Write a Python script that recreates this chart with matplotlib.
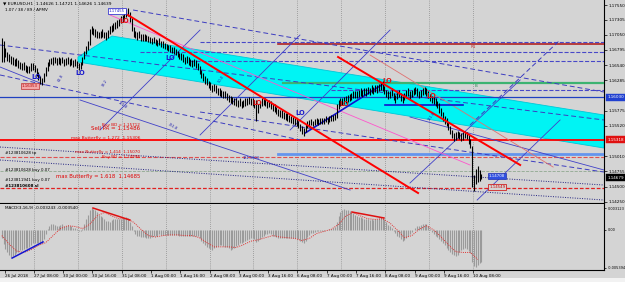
import matplotlib
matplotlib.use("Agg")
import matplotlib.pyplot as plt
from matplotlib.patches import Polygon, Rectangle

BG = "#d4d4d4"

# EURUSD H1 bars, one row = 16 bars
bar_hi = [
    1.1700, 1.1694, 1.1683, 1.1676, 1.1673, 1.1669, 1.1667, 1.1665, 1.1666, 1.1662, 1.1660, 1.1658, 1.1659, 1.1655, 1.1653, 1.1652,
    1.1657, 1.1658, 1.1655, 1.1649, 1.1642, 1.1636, 1.1633, 1.1640, 1.1651, 1.1660, 1.1665, 1.1666, 1.1667, 1.1668, 1.1666, 1.1667,
    1.1666, 1.1667, 1.1664, 1.1666, 1.1667, 1.1664, 1.1666, 1.1662, 1.1664, 1.1661, 1.1657, 1.1660, 1.1668, 1.1677, 1.1686, 1.1694,
    1.1715, 1.1719, 1.1716, 1.1714, 1.1712, 1.1710, 1.1712, 1.1714, 1.1710, 1.1709, 1.1713, 1.1720, 1.1722, 1.1724, 1.1727, 1.1729,
    1.1732, 1.1736, 1.1739, 1.1743, 1.1748, 1.1750, 1.1744, 1.1734, 1.1718, 1.1711, 1.1709, 1.1711, 1.1707, 1.1706, 1.1707, 1.1705,
    1.1703, 1.1702, 1.1699, 1.1702, 1.1698, 1.1697, 1.1699, 1.1694, 1.1694, 1.1691, 1.1690, 1.1688, 1.1687, 1.1684, 1.1684, 1.1681,
    1.1678, 1.1675, 1.1674, 1.1672, 1.1668, 1.1669, 1.1667, 1.1665, 1.1663, 1.1665, 1.1662, 1.1658, 1.1652, 1.1646, 1.1640, 1.1635,
    1.1632, 1.1628, 1.1625, 1.1621, 1.1623, 1.1620, 1.1616, 1.1615, 1.1613, 1.1611, 1.1610, 1.1608, 1.1604, 1.1603, 1.1601, 1.1599,
    1.1598, 1.1596, 1.1598, 1.1594, 1.1596, 1.1598, 1.1599, 1.1601, 1.1599, 1.1598, 1.1596, 1.1595, 1.1588, 1.1594, 1.1598, 1.1599,
    1.1598, 1.1594, 1.1596, 1.1593, 1.1589, 1.1588, 1.1584, 1.1581, 1.1579, 1.1578, 1.1576, 1.1574, 1.1573, 1.1571, 1.1569, 1.1567,
    1.1566, 1.1564, 1.1561, 1.1556, 1.1551, 1.1548, 1.1555, 1.1561, 1.1562, 1.1563, 1.1561, 1.1563, 1.1565, 1.1563, 1.1565, 1.1566,
    1.1566, 1.1568, 1.1566, 1.1568, 1.1570, 1.1570, 1.1572, 1.1588, 1.1595, 1.1598, 1.1599, 1.1601, 1.1603, 1.1604, 1.1606, 1.1608,
    1.1610, 1.1611, 1.1610, 1.1613, 1.1615, 1.1613, 1.1616, 1.1615, 1.1618, 1.1616, 1.1620, 1.1618, 1.1621, 1.1620, 1.1623, 1.1626,
    1.1627, 1.1619, 1.1613, 1.1610, 1.1611, 1.1615, 1.1608, 1.1604, 1.1610, 1.1613, 1.1607, 1.1603, 1.1608, 1.1612, 1.1616, 1.1610,
    1.1613, 1.1616, 1.1618, 1.1615, 1.1611, 1.1613, 1.1616, 1.1618, 1.1615, 1.1610, 1.1606, 1.1603, 1.1601, 1.1598, 1.1594, 1.1590,
    1.1582, 1.1575, 1.1568, 1.1565, 1.1559, 1.1552, 1.1545, 1.1540, 1.1541, 1.1544, 1.1542, 1.1540, 1.1541, 1.1544, 1.1542, 1.1537,
    1.1530, 1.1518, 1.1470, 1.1480, 1.1485, 1.1478, 1.1472,
]
bar_lo = [
    1.1660, 1.1660, 1.1667, 1.1661, 1.1659, 1.1656, 1.1655, 1.1653, 1.1653, 1.1650, 1.1648, 1.1646, 1.1646, 1.1643, 1.1641, 1.1640,
    1.1645, 1.1646, 1.1643, 1.1636, 1.1629, 1.1623, 1.1620, 1.1626, 1.1635, 1.1645, 1.1653, 1.1656, 1.1655, 1.1657, 1.1655, 1.1656,
    1.1655, 1.1657, 1.1653, 1.1655, 1.1656, 1.1653, 1.1655, 1.1651, 1.1653, 1.1650, 1.1646, 1.1648, 1.1655, 1.1664, 1.1672, 1.1679,
    1.1688, 1.1706, 1.1704, 1.1702, 1.1700, 1.1699, 1.1700, 1.1702, 1.1699, 1.1697, 1.1700, 1.1706, 1.1710, 1.1711, 1.1715, 1.1717,
    1.1720, 1.1724, 1.1727, 1.1730, 1.1735, 1.1736, 1.1726, 1.1712, 1.1702, 1.1699, 1.1697, 1.1699, 1.1695, 1.1694, 1.1695, 1.1694,
    1.1693, 1.1691, 1.1689, 1.1691, 1.1688, 1.1686, 1.1687, 1.1684, 1.1682, 1.1681, 1.1679, 1.1677, 1.1676, 1.1674, 1.1672, 1.1671,
    1.1668, 1.1664, 1.1662, 1.1660, 1.1656, 1.1658, 1.1655, 1.1653, 1.1651, 1.1653, 1.1650, 1.1646, 1.1639, 1.1633, 1.1628, 1.1623,
    1.1620, 1.1616, 1.1613, 1.1609, 1.1611, 1.1608, 1.1604, 1.1603, 1.1601, 1.1599, 1.1598, 1.1596, 1.1592, 1.1591, 1.1589, 1.1587,
    1.1586, 1.1584, 1.1586, 1.1582, 1.1584, 1.1586, 1.1587, 1.1589, 1.1587, 1.1586, 1.1582, 1.1561, 1.1574, 1.1582, 1.1586, 1.1587,
    1.1586, 1.1582, 1.1584, 1.1581, 1.1577, 1.1576, 1.1572, 1.1569, 1.1567, 1.1566, 1.1564, 1.1562, 1.1561, 1.1559, 1.1557, 1.1555,
    1.1554, 1.1552, 1.1549, 1.1544, 1.1539, 1.1535, 1.1541, 1.1549, 1.1550, 1.1553, 1.1551, 1.1553, 1.1555, 1.1553, 1.1555, 1.1556,
    1.1556, 1.1558, 1.1556, 1.1558, 1.1560, 1.1560, 1.1562, 1.1565, 1.1580, 1.1586, 1.1587, 1.1589, 1.1591, 1.1592, 1.1594, 1.1596,
    1.1598, 1.1599, 1.1598, 1.1601, 1.1603, 1.1601, 1.1604, 1.1603, 1.1606, 1.1604, 1.1608, 1.1606, 1.1609, 1.1608, 1.1611, 1.1612,
    1.1611, 1.1605, 1.1600, 1.1597, 1.1598, 1.1602, 1.1595, 1.1591, 1.1597, 1.1600, 1.1593, 1.1590, 1.1595, 1.1598, 1.1602, 1.1597,
    1.1601, 1.1604, 1.1606, 1.1603, 1.1599, 1.1601, 1.1604, 1.1606, 1.1603, 1.1598, 1.1594, 1.1591, 1.1589, 1.1586, 1.1582, 1.1574,
    1.1568, 1.1560, 1.1555, 1.1552, 1.1545, 1.1539, 1.1532, 1.1527, 1.1529, 1.1532, 1.1530, 1.1527, 1.1529, 1.1532, 1.1530, 1.1521,
    1.1515, 1.1450, 1.1443, 1.1455, 1.1458, 1.1460, 1.1463,
]

# MACD main (histogram) per bar
macd_main = [
    -0.0012, -0.0020, -0.0027, -0.0032, -0.0035, -0.0038, -0.0037, -0.0035, -0.0033, -0.0031, -0.0029, -0.0028, -0.0027, -0.0026, -0.0025, -0.0024,
    -0.0021, -0.0019, -0.0018, -0.0018, -0.0019, -0.0019, -0.0018, -0.0013, -0.0006, 0.0002, 0.0006, 0.0008, 0.0008, 0.0007, 0.0006, 0.0005,
    0.0007, 0.0008, 0.0006, 0.0006, 0.0007, 0.0005, 0.0005, 0.0003, 0.0003, 0.0001, -0.0002, -0.0002, 0.0002, 0.0009, 0.0015, 0.0021,
    0.0028, 0.0031, 0.0030, 0.0028, 0.0025, 0.0022, 0.0020, 0.0018, 0.0015, 0.0013, 0.0013, 0.0012, 0.0014, 0.0015, 0.0016, 0.0016,
    0.0016, 0.0016, 0.0017, 0.0017, 0.0018, 0.0017, 0.0012, 0.0005, -0.0002, -0.0006, -0.0008, -0.0009, -0.0010, -0.0010, -0.0010, -0.0011,
    -0.0011, -0.0011, -0.0010, -0.0008, -0.0008, -0.0008, -0.0006, -0.0007, -0.0007, -0.0007, -0.0007, -0.0007, -0.0007, -0.0007, -0.0007, -0.0007,
    -0.0007, -0.0008, -0.0008, -0.0008, -0.0009, -0.0008, -0.0008, -0.0008, -0.0008, -0.0008, -0.0008, -0.0009, -0.0012, -0.0016, -0.0019, -0.0022,
    -0.0024, -0.0026, -0.0027, -0.0028, -0.0026, -0.0024, -0.0023, -0.0022, -0.0022, -0.0023, -0.0024, -0.0024, -0.0026, -0.0028, -0.0027, -0.0025,
    -0.0023, -0.0021, -0.0019, -0.0018, -0.0017, -0.0015, -0.0014, -0.0013, -0.0012, -0.0012, -0.0013, -0.0017, -0.0016, -0.0013, -0.0010, -0.0008,
    -0.0006, -0.0006, -0.0005, -0.0006, -0.0008, -0.0009, -0.0010, -0.0011, -0.0011, -0.0011, -0.0011, -0.0011, -0.0011, -0.0011, -0.0011, -0.0012,
    -0.0012, -0.0012, -0.0013, -0.0015, -0.0017, -0.0018, -0.0015, -0.0010, -0.0007, -0.0005, -0.0004, -0.0003, -0.0002, -0.0002, -0.0001, -0.0001,
    -0.0001, 0.0000, 0.0000, 0.0001, 0.0002, 0.0003, 0.0004, 0.0011, 0.0020, 0.0026, 0.0029, 0.0030, 0.0029, 0.0028, 0.0027, 0.0025,
    0.0024, 0.0022, 0.0020, 0.0019, 0.0018, 0.0017, 0.0016, 0.0015, 0.0015, 0.0014, 0.0015, 0.0014, 0.0015, 0.0016, 0.0017, 0.0018,
    0.0018, 0.0015, 0.0011, 0.0007, 0.0005, 0.0003, -0.0001, -0.0004, -0.0008, -0.0010, -0.0013, -0.0016, -0.0014, -0.0011, -0.0008, -0.0006,
    -0.0003, 0.0000, 0.0003, 0.0005, 0.0006, 0.0007, 0.0008, 0.0009, 0.0008, 0.0005, 0.0001, -0.0003, -0.0006, -0.0008, -0.0010, -0.0013,
    -0.0016, -0.0019, -0.0022, -0.0025, -0.0028, -0.0031, -0.0034, -0.0036, -0.0037, -0.0035, -0.0032, -0.0029, -0.0027, -0.0026, -0.0027, -0.0030,
    -0.0033, -0.0045, -0.0052, -0.0053, -0.0050, -0.0047, -0.0045,
]

# MACD signal, read every 4th bar
signal_bars = list(range(0, 261, 4))
macd_signal = [
    -0.0008, -0.0020, -0.0030, -0.0032, -0.0028, -0.0022, -0.0018, -0.0008, 0.0002, 0.0006, 0.0005, 0.0002, 0.0008, 0.0020, 0.0025, 0.0020,
    0.0016, 0.0016, 0.0011, 0.0001, -0.0008, -0.0010, -0.0008, -0.0007, -0.0007, -0.0008, -0.0008, -0.0011, -0.0018, -0.0024, -0.0024, -0.0024,
    -0.0025, -0.0021, -0.0016, -0.0014, -0.0011, -0.0008, -0.0010, -0.0011, -0.0012, -0.0015, -0.0012, -0.0005, -0.0002, 0.0001, 0.0008, 0.0020,
    0.0025, 0.0020, 0.0016, 0.0015, 0.0016, 0.0010, 0.0000, -0.0011, -0.0008, 0.0001, 0.0006, 0.0000, -0.0010, -0.0021, -0.0031, -0.0032,
    -0.0032, -0.0042,
]

time_labels = ["26 Jul 2018", "27 Jul 08:00", "30 Jul 00:00", "30 Jul 16:00", "31 Jul 08:00",
               "1 Aug 00:00", "1 Aug 16:00", "2 Aug 08:00", "3 Aug 00:00", "3 Aug 16:00",
               "6 Aug 08:00", "7 Aug 00:00", "7 Aug 16:00", "8 Aug 08:00", "9 Aug 00:00",
               "9 Aug 16:00", "10 Aug 08:00"]
price_ticks = [1.17550, 1.17305, 1.17050, 1.16795, 1.16540, 1.16285, 1.15775,
               1.15520, 1.15010, 1.14755, 1.14500, 1.14250]

# objects drawn on the chart: (bar0, price0, bar1, price1)
red_trends = [(68.9, 1.17382, 227.4, 1.14393), (183.7, 1.16677, 283.2, 1.14863)]
thin_red = [(201.2, 1.16710, 301.2, 1.14829)]
pink_lines = [(59.1, 1.17382, 255.8, 1.14863)]
fan_dashed = [(71.7, 1.17466, 329, 1.16089), (-1, 1.16878, 329, 1.15619),
              (108.3, 1.15753, 329, 1.14745), (-1, 1.16375, 162.9, 1.15283),
              (255.8, 1.15535, 305, 1.16962)]
fan_solid = [(42.7, 1.15955, 190.3, 1.14443), (223.0, 1.15669, 329, 1.14779),
             (108.3, 1.15367, 162.9, 1.17046), (157.5, 1.15451, 212.1, 1.17130),
             (223.0, 1.14561, 283.2, 1.16291), (259.7, 1.14275, 305, 1.15619),
             (53.6, 1.15451, 108.3, 1.17130), (-1, 1.16509, 23.6, 1.16207)]
fan_dotted = [(-1, 1.15165, 329, 1.14527), (-1, 1.14947, 329, 1.14275)]
blue_trend = [(165.7, 1.15400, 208.3, 1.16223), (209.4, 1.15871, 252.0, 1.15871)]
# horizontal levels: price, start bar, colour, width, style
levels = [
    (1.15290, -1, "red", 1.3, "-"),
    (1.16000, -1, "#2040c0", 0.9, "-"),
    (1.15040, 151.0, "#6495ed", 2.0, "-"),
    (1.16240, 153.6, "#3cb371", 1.6, "-"),
    (1.16895, 151.0, "#b22222", 1.2, "-"),
    (1.16929, 108.3, "#4848c8", 0.8, "--"),
    (1.16761, 75.5, "#4848c8", 0.8, "--"),
    (1.16610, 103.0, "#4848c8", 0.8, "--"),
    (1.16123, 180.0, "#4848c8", 0.8, "--"),
    (1.14997, -1, "#e05050", 0.8, "--"),
    (1.14762, -1, "#90a890", 0.6, "--"),
    (1.14477, -1, "#e02020", 0.9, (0, (3, 1.5))),
]
cyan_bars = [41.6, 60.2, 329, 329, 41.6]
cyan_prices = [1.16677, 1.17029, 1.15703, 1.15148, 1.16593]

lo_blue = [(18.7, 1.16341), (42.7, 1.16408), (91.9, 1.16660), (162.9, 1.15736)]
lo_red = [(66.8, 1.17281), (139.4, 1.15904), (187.0, 1.15888), (210.5, 1.16274), (234.5, 1.16022)]

order_texts = [("#123810628 tp", 1.15065, False), ("#123810628 buy 0.07", 1.14779, False),
               ("#123811941 buy 0.07", 1.14611, False), ("#123810608 sl", 1.14510, True)]
pattern_texts = [("Buy BD = 1.15712", 1.15536, 3.0), ("Sell PA = 1.15486", 1.15469, 4.0),
                 ("max Butterfly = 1.272  1.15306", 1.15318, 3.2),
                 ("max Butterfly = 1.414  1.15070", 1.15082, 3.0),
                 ("Buy BD = 1.14998", 1.14998, 3.0),
                 ("max Butterfly = 1.618  1.14685", 1.14678, 3.8)]

fig = plt.figure(figsize=(6.25, 2.82), dpi=100, facecolor=BG)
ax = fig.add_axes([0, 1 - 203 / 282, 604 / 625, 203 / 282], facecolor=BG)
ax2 = fig.add_axes([0, 1 - 270 / 282, 604 / 625, 66 / 282], facecolor=BG)

for a in (ax, ax2):
    a.set_xlim(-1, 329)
    for s in ("left", "top"):
        a.spines[s].set_visible(False)
    for s in ("right", "bottom"):
        a.spines[s].set_color("black")
        a.spines[s].set_linewidth(0.8)
    a.yaxis.tick_right()
    a.tick_params(axis="y", length=2, width=0.5, labelsize=3, pad=1.5, colors="black")
    for g in range(0, 11):
        a.axvline(17.5 + 24 * g, color="#707070", lw=0.5, ls=(0, (1, 2)), zorder=1)

ax.set_ylim(1.14225, 1.17634)
ax.set_xticks([])
ax.set_yticks(price_ticks)
ax.set_yticklabels(["%.5f" % p for p in price_ticks])

# cyan channel
ax.add_patch(Polygon(list(zip(cyan_bars, cyan_prices)), closed=True, fc="#00f4f4", ec="#00c8d8", lw=0.6, zorder=2))

for p, b0, c, w, st in levels:
    ax.plot([b0, 329], [p, p], color=c, lw=w, ls=st, zorder=3)
for b0, p0, b1, p1 in fan_dashed:
    ax.plot([b0, b1], [p0, p1], color="#3c3cc0", lw=0.7, ls=(0, (5, 3)), zorder=3)
for b0, p0, b1, p1 in fan_solid:
    ax.plot([b0, b1], [p0, p1], color="#4040c8", lw=0.6, zorder=3)
for b0, p0, b1, p1 in fan_dotted:
    ax.plot([b0, b1], [p0, p1], color="#202080", lw=0.7, ls=(0, (1, 1.5)), zorder=3)
for b0, p0, b1, p1 in pink_lines:
    ax.plot([b0, b1], [p0, p1], color="#ff55cc", lw=0.6, zorder=3)
for b0, p0, b1, p1 in thin_red:
    ax.plot([b0, b1], [p0, p1], color="#e07070", lw=0.6, zorder=3)
for b0, p0, b1, p1 in blue_trend:
    ax.plot([b0, b1], [p0, p1], color="#1010d0", lw=1.2, zorder=4)

# price bars
bars = list(range(len(bar_hi)))
ax.vlines(bars, bar_lo, bar_hi, color="black", lw=0.8, zorder=5)

for b0, p0, b1, p1 in red_trends:
    ax.plot([b0, b1], [p0, p1], color="red", lw=1.4, zorder=6)

for b, p in lo_blue:
    ax.text(b, p, "LO", color="#1a1acc", fontsize=4.8, fontweight="bold", ha="center", va="center", zorder=7)
for b, p in lo_red:
    ax.text(b, p, "LO", color="#e01010", fontsize=4.8, fontweight="bold", ha="center", va="center", zorder=7)

ax.text(62.9, 1.17449, "1.17455", fontsize=2.8, color="#1a1acc", ha="center", va="center", zorder=7,
        bbox=dict(boxstyle="square,pad=0.25", fc="white", ec="#1a1acc", lw=0.5))
ax.text(15.4, 1.16190, "1.16353", fontsize=2.8, color="#b00000", ha="center", va="center", zorder=7,
        bbox=dict(boxstyle="square,pad=0.25", fc="#f4a8a8", ec="#c03030", lw=0.5))
ax.text(270.6, 1.14678, "1.14708", fontsize=2.8, color="white", ha="center", va="center", zorder=7,
        bbox=dict(boxstyle="square,pad=0.25", fc="#3050e0", ec="#2030b0", lw=0.5))
ax.text(270.6, 1.14494, "1.14549", fontsize=2.8, color="#d00000", ha="center", va="center", zorder=7,
        bbox=dict(boxstyle="square,pad=0.25", fc=BG, ec="#d00000", lw=0.5))
ax.text(257.5, 1.16845, "R1", fontsize=3, color="#c03030", ha="center", va="center", zorder=7)
ax.text(259.1, 1.16190, "B", fontsize=3, color="#2e8b57", ha="center", va="center", zorder=7)

for t, b, p, r in [("61.8", 32.0, 1.16320, 60), ("38.2", 56.5, 1.16240, 60), ("161.8", 66.0, 1.15870, -35),
                   ("261.8", 93.5, 1.15500, -30), ("161.1803", 136.0, 1.14980, 0), ("50.0", 120.0, 1.16300, 55),
                   ("161.8", 235.0, 1.15680, 55)]:
    ax.text(b, p, t, fontsize=2.6, color="#2020b0", rotation=r, ha="center", va="center", zorder=7)

for t, p, bold in order_texts:
    ax.text(1.7, p, t, fontsize=2.9, color="black", fontweight="bold" if bold else "normal",
            ha="left", va="center", zorder=7)
for t, p, fs in pattern_texts:
    ax.text(75.5, p, t, fontsize=fs, color="#e00000", ha="right", va="center", zorder=7)

ax.text(0.5, 1.1758, "\u25bc EURUSD,H1  1.14626 1.14721 1.14626 1.14639", fontsize=3.2, color="black",
        ha="left", va="center", zorder=8)
ax.text(2.0, 1.1746, "1.07 / 38 / 89 / APMV", fontsize=3.0, color="black", ha="left", va="center", zorder=8)

# right axis markers
ytr = ax.get_yaxis_transform()
for p, t, fc, tc in [(1.16000, "1.16030", "#2040d0", "white"), (1.15290, "1.15318", "#e01010", "white"),
                     (1.14650, "1.14679", "black", "white")]:
    ax.text(1.006, p, t, transform=ytr, fontsize=3, color=tc, ha="left", va="center", clip_on=False,
            bbox=dict(boxstyle="square,pad=0.3", fc=fc, ec=fc, lw=0.3), zorder=9)

# MACD window
ax2.set_ylim(-0.0057, 0.0037)
ax2.vlines(bars, 0, macd_main, color="#9a9a9a", lw=0.8, zorder=3)
ax2.plot(signal_bars, macd_signal, color="#e03030", lw=0.7, ls=(0, (1, 1.2)), zorder=4)
ax2.plot([5.6, 22.5], [-0.0040, -0.0017], color="#1515d0", lw=1.1, zorder=5)
ax2.plot([49.8, 70.0], [0.00313, 0.00142], color="#e01010", lw=1.1, zorder=5)
ax2.plot([191.3, 208.8], [0.00256, 0.00171], color="#e01010", lw=1.1, zorder=5)
ax2.set_yticks([0.003123, 0.0, -0.005394])
ax2.set_yticklabels(["0.003123", "0.00", "-0.005394"])
ax2.tick_params(axis="y", labelsize=2.5, pad=1, length=1.5)
ax2.text(2.0, 0.0031, "MACD(3,16,9) -0.003243 -0.003540", fontsize=3, color="black", ha="left", va="center")

ax2.set_xticks([1.5 + 16 * k for k in range(len(time_labels))])
ax2.set_xticklabels(time_labels, fontsize=3)
ax2.tick_params(axis="x", length=2, width=0.5, pad=1, colors="black")
for lab in ax2.get_xticklabels():
    lab.set_horizontalalignment("left")

fig.patches.append(Rectangle((0, 0), 1, 4 / 282, transform=fig.transFigure, fc="#f2f2f2", ec="none"))

fig.savefig("out.png", dpi=100, facecolor=BG)
